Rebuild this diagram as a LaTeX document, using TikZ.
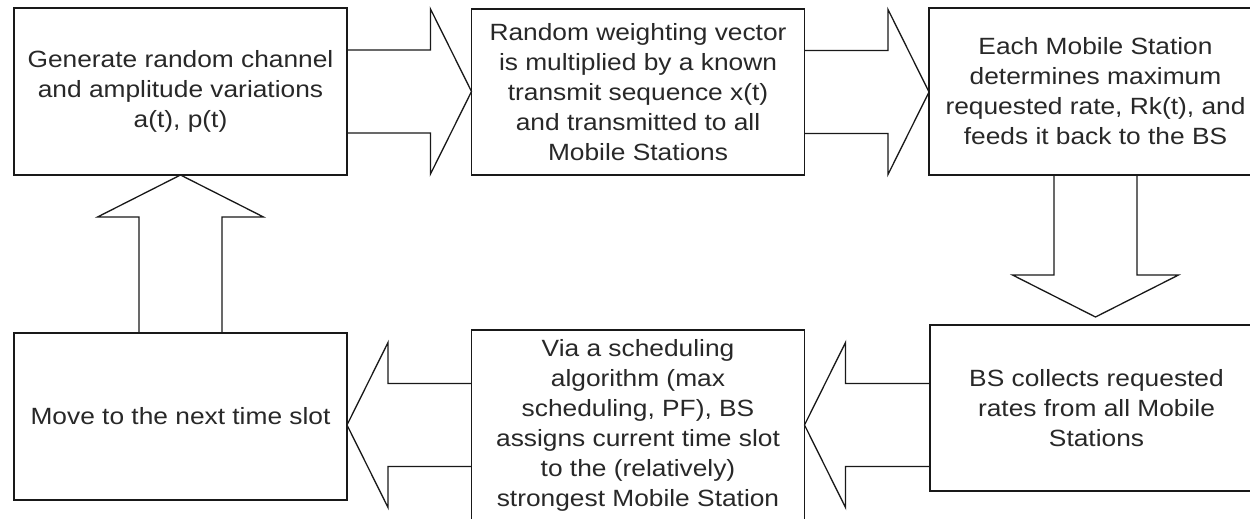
\documentclass[tikz,border=0pt]{standalone}
\usepackage{fontspec}
\setmainfont{Liberation Sans}[FakeStretch=1.12]
\usetikzlibrary{calc}
\definecolor{txt}{RGB}{40,40,40}
\definecolor{ln}{RGB}{25,25,25}
\tikzset{
  box/.style={draw=ln, line width=1.5pt, minimum width=333pt, inner sep=0pt, outer sep=0pt,
    align=center, text=txt, font=\fontsize{23.5}{30}\selectfont},
  barrow/.style={draw=ln, line width=1.3pt, line join=miter}
}
\newcommand\harrow[2]{%
  \draw[barrow] let \p1=(#1), \p2=(#2), \n1={sign(\x2-\x1)} in
    (\x1,\y1+41.5pt) -- (\x2-\n1*41pt,\y1+41.5pt) -- (\x2-\n1*41pt,\y1+82.5pt) -- (\x2,\y1)
    -- (\x2-\n1*41pt,\y1-82.5pt) -- (\x2-\n1*41pt,\y1-41.5pt) -- (\x1,\y1-41.5pt);}
\newcommand\varrow[2]{%
  \draw[barrow] let \p1=(#1), \p2=(#2), \n1={sign(\y2-\y1)} in
    (\x1+41.5pt,\y1) -- (\x1+41.5pt,\y2-\n1*42pt) -- (\x1+83pt,\y2-\n1*42pt) -- (\x1,\y2)
    -- (\x1-83pt,\y2-\n1*42pt) -- (\x1-41.5pt,\y2-\n1*42pt) -- (\x1-41.5pt,\y1);}
\begin{document}
\begin{tikzpicture}[x=1pt,y=-1pt]
\useasboundingbox (0,0) rectangle (1250,519);
\clip (0,0) rectangle (1250,519);
\fill[white] (0,0) rectangle (1250,519);
\node[box, minimum height=167pt] (b1) at (180.5,91.5) {Generate random channel\\and amplitude variations\\a(t), p(t)};
\node[box, minimum height=166pt] (b2) at (638,92) {Random weighting vector\\is multiplied by a known\\transmit sequence x(t)\\and transmitted to all\\Mobile Stations};
\node[box, minimum height=167pt] (b3) at (1095.5,91.5) {Each Mobile Station\\determines maximum\\requested rate, Rk(t), and\\feeds it back to the BS};
\node[box, minimum height=166pt] (b4) at (1096.5,408) {BS collects requested\\rates from all Mobile\\Stations};
\node[box, minimum height=190pt] (b5) at (638,425) {Via a scheduling\\algorithm (max\\scheduling, PF), BS\\assigns current time slot\\to the (relatively)\\strongest Mobile Station};
\node[box, minimum height=167pt] (b6) at (180.5,416.5) {Move to the next time slot};
\coordinate (t34) at ($(b4.north)+(-1,-8)$);
\coordinate (s45) at (b4.west |- b5.east);
\coordinate (t56) at (b6.east |- b5.west);
\harrow{b1.east}{b2.west}
\harrow{b2.east}{b3.west}
\varrow{b3.south}{t34}
\harrow{s45}{b5.east}
\harrow{b5.west}{t56}
\varrow{b6.north}{b1.south}
\end{tikzpicture}
\end{document}
